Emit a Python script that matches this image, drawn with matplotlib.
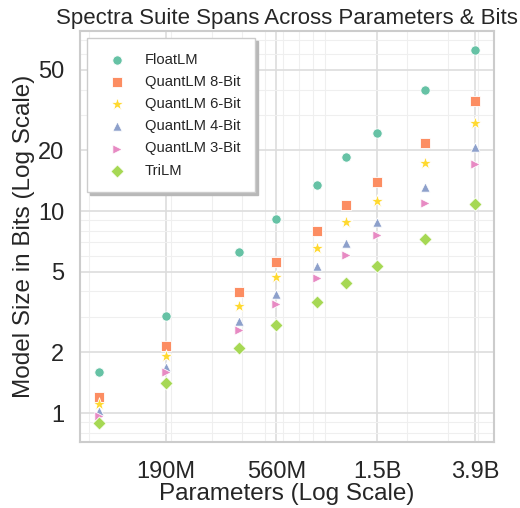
import numpy as np
import matplotlib
matplotlib.use("Agg")
import matplotlib.pyplot as plt
import seaborn as sns
from matplotlib.ticker import LogLocator, FixedLocator, FixedFormatter, NullFormatter

# parameter counts of the suite
params = [99e6, 190e6, 390e6, 560e6, 830e6, 1.1e9, 1.5e9, 2.4e9, 3.9e9]
tick_values = [190e6, 560e6, 1.5e9, 3.9e9]
tick_labels = ["190M", "560M", "1.5B", "3.9B"]

# model size in bits (billions)
float_lm = [1.59, 3.04, 6.27, 9.1, 13.5, 18.6, 24.4, 40.0, 63.0]
quant_8 = [1.20, 2.14, 3.97, 5.59, 7.93, 10.7, 13.9, 21.8, 35.0]
quant_6 = [1.11, 1.91, 3.38, 4.71, 6.55, 8.79, 11.2, 17.3, 27.4]
quant_4 = [1.02, 1.70, 2.85, 3.89, 5.32, 6.98, 8.85, 13.1, 20.7]
quant_3 = [0.97, 1.59, 2.59, 3.48, 4.66, 6.04, 7.60, 11.0, 17.1]
tri_lm = [0.89, 1.41, 2.10, 2.74, 3.53, 4.42, 5.34, 7.26, 10.9]

series = [
    ("FloatLM", float_lm, "o"),
    ("QuantLM 8-Bit", quant_8, "s"),
    ("QuantLM 6-Bit", quant_6, "*"),
    ("QuantLM 4-Bit", quant_4, "^"),
    ("QuantLM 3-Bit", quant_3, ">"),
    ("TriLM", tri_lm, "D"),
]
colors = ["#66c2a5", "#fc8d62", "#ffd92f", "#8da0cb", "#e78ac3", "#a6d854"]

sns.set_style("whitegrid")
plt.rcParams['font.family'] = ['Liberation Sans', 'DejaVu Sans']

fig, ax = plt.subplots(figsize=(5.2, 5.08), dpi=100)
fig.subplots_adjust(left=0.154, right=0.95, top=0.939, bottom=0.13)

for (name, vals, m), c in zip(series, colors):
    size = 95 if m == "*" else 45
    ax.scatter(params, vals, marker=m, s=size, color=c, edgecolor="white",
               linewidth=0.6, label=name, zorder=3)

ax.set_xscale("log")
ax.set_yscale("log")

ax.xaxis.set_major_locator(FixedLocator(tick_values))
ax.xaxis.set_major_formatter(FixedFormatter(tick_labels))
ax.xaxis.set_minor_locator(LogLocator(base=10, subs=np.arange(2, 10)))
ax.xaxis.set_minor_formatter(NullFormatter())

ax.yaxis.set_major_locator(FixedLocator([1, 2, 5, 10, 20, 50]))
ax.yaxis.set_major_formatter(FixedFormatter(["1", "2", "5", "10", "20", "50"]))
ax.yaxis.set_minor_locator(LogLocator(base=10, subs=np.arange(2, 10)))
ax.yaxis.set_minor_formatter(NullFormatter())

ax.grid(True, which="major", color="#dddddd", linewidth=1.2)
ax.grid(True, which="minor", color="#efefef", linewidth=0.8)
ax.tick_params(axis="both", which="major", labelsize=17, length=0)
ax.tick_params(axis="x", which="major", pad=14)
ax.tick_params(axis="y", which="major", pad=11.5)
ax.tick_params(axis="both", which="minor", length=0)
for sp in ax.spines.values():
    sp.set_color("#cccccc")
    sp.set_linewidth(1.5)

ax.set_xlabel("Parameters (Log Scale)", fontsize=17.5, labelpad=0)
ax.set_ylabel("Model Size in Bits (Log Scale)", fontsize=17.5, labelpad=2)
ax.set_title("Spectra Suite Spans Across Parameters & Bits", fontsize=16, pad=5)

leg = ax.legend(loc="upper left", fontsize=10.6, frameon=True,
                shadow={"color": "#b8b8b8", "alpha": 1.0},
                borderpad=1.0, labelspacing=0.55, handletextpad=0.9, fancybox=False)
leg.get_frame().set_edgecolor("#cccccc")

fig.savefig("out.png", dpi=100)
